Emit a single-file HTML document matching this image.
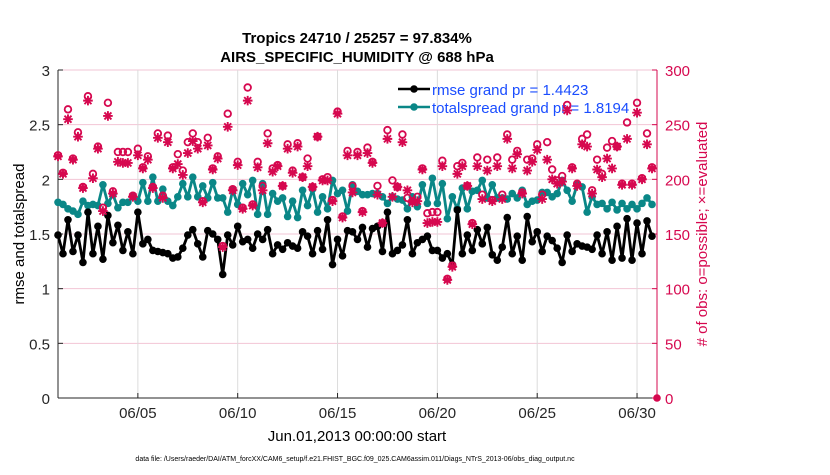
<!DOCTYPE html>
<html><head><meta charset="utf-8"><style>
body{margin:0;background:#fff;}
svg text{font-family:"Liberation Sans",sans-serif;}
</style></head><body>
<svg id="chart" width="830" height="470" xmlns="http://www.w3.org/2000/svg">
<text x="357" y="43" font-size="15" font-weight="bold" text-anchor="middle">Tropics 24710 / 25257 = 97.834%</text>
<text x="357" y="62" font-size="15" font-weight="bold" text-anchor="middle">AIRS_SPECIFIC_HUMIDITY @ 688 hPa</text>
<g id="grid"></g>
<g id="axes"></g>
<g id="legend">
 <line x1="398" y1="89" x2="430" y2="89" stroke="#000" stroke-width="2.5"/>
 <circle cx="414" cy="89" r="3.8" fill="#000"/>
 <text x="432" y="95" font-size="15" fill="#1a4dff">rmse grand pr = 1.4423</text>
 <line x1="398" y1="107" x2="430" y2="107" stroke="#0a8787" stroke-width="2.5"/>
 <circle cx="414" cy="107" r="3.8" fill="#0a8787"/>
 <text x="432" y="113" font-size="15" fill="#1a4dff">totalspread grand pr = 1.8194</text>
</g>
<g id="series"></g>
<text transform="translate(24,234) rotate(-90)" font-size="15" text-anchor="middle">rmse and totalspread</text>
<text transform="translate(707,234) rotate(-90)" font-size="15" text-anchor="middle" fill="#d6084f"># of obs: o=possible; ×=evaluated</text>
<text x="357" y="441" font-size="15" text-anchor="middle">Jun.01,2013 00:00:00 start</text>
<text x="355" y="461" font-size="7" text-anchor="middle">data file: /Users/raeder/DAI/ATM_forcXX/CAM6_setup/f.e21.FHIST_BGC.f09_025.CAM6assim.011/Diags_NTrS_2013-06/obs_diag_output.nc</text>
</svg>
<script>
const rmse=[1.49,1.32,1.63,1.34,1.49,1.24,1.70,1.32,1.57,1.27,1.67,1.42,1.58,1.35,1.52,1.32,1.70,1.41,1.45,1.35,1.34,1.33,1.32,1.28,1.29,1.37,1.49,1.54,1.41,1.29,1.53,1.50,1.45,1.13,1.49,1.40,1.57,1.43,1.45,1.37,
1.50,1.45,1.54,1.32,1.40,1.36,1.42,1.39,1.37,1.52,1.48,1.32,1.53,1.36,1.63,1.22,1.45,1.30,1.53,1.52,1.45,1.56,1.38,1.55,1.57,1.34,1.70,1.32,1.35,1.40,1.63,1.32,1.42,1.45,1.48,1.35,1.35,1.28,
1.32,1.22,1.72,1.32,1.49,1.35,1.54,1.41,1.56,1.31,1.26,1.38,1.65,1.32,1.48,1.26,1.66,1.43,1.52,1.34,1.48,1.44,1.37,1.24,1.49,1.34,1.41,1.39,1.38,1.36,1.49,1.32,1.52,1.26,1.57,1.28,1.64,1.26,1.60,1.32,1.62,1.48];
const spread=[1.79,1.77,1.73,1.71,1.68,1.80,1.76,1.77,1.76,1.95,1.78,1.86,1.74,1.79,1.79,1.84,1.80,1.97,1.80,2.02,1.80,1.91,1.80,1.76,1.84,1.96,1.84,2.02,1.84,1.94,1.83,1.97,1.83,1.83,1.70,1.90,1.77,1.96,1.86,1.99,
1.68,1.96,1.68,1.87,1.80,1.83,1.66,1.80,1.65,1.90,1.76,1.91,1.70,1.84,1.73,1.99,1.87,1.90,1.71,1.95,1.89,1.86,1.86,1.87,1.87,1.84,1.78,1.84,1.82,1.81,1.73,1.84,1.75,1.95,1.78,2.01,1.78,1.96,
1.64,1.84,1.73,1.92,1.73,1.89,1.90,1.99,1.83,1.95,1.83,1.83,1.82,1.87,1.83,1.90,1.77,1.80,1.81,1.88,1.88,1.84,1.87,1.99,1.90,1.80,1.95,1.93,1.70,1.84,1.77,1.78,1.73,1.79,1.72,1.78,1.73,1.77,1.73,1.78,1.83,1.77];
const evaluated=[221,205,255,218,239,192,272,201,228,171,258,187,216,215,215,184,222,210,218,192,238,183,234,210,214,204,224,235,228,179,231,209,219,138,248,190,213,173,272,176,
211,190,233,207,212,194,228,206,230,202,212,193,239,199,199,180,260,165,222,188,222,170,224,215,186,160,237,184,193,234,190,179,180,209,160,161,161,212,
108,120,205,212,194,159,212,182,208,180,212,182,237,210,223,187,208,216,227,182,218,200,196,198,263,210,194,232,230,187,209,202,219,210,230,195,237,195,261,200,232,210];
const possible=[222,206,264,219,243,193,276,205,230,174,270,189,225,225,225,185,228,211,221,193,242,185,240,211,223,208,234,242,234,180,238,210,221,139,260,191,216,174,284,177,
216,194,242,210,213,194,232,208,233,202,219,193,239,200,202,181,262,166,226,194,225,171,229,216,194,160,245,199,193,241,183,180,184,210,169,170,170,217,
109,121,212,215,194,160,220,186,218,181,220,186,241,218,226,188,218,219,232,186,234,209,199,203,268,211,196,237,241,190,218,205,229,235,230,196,252,196,270,201,242,211];
const xTicks=[4,9,14,19,24,29];
const xTickLabels=["06/05","06/10","06/15","06/20","06/25","06/30"];
const yTicks=[0,0.5,1,1.5,2,2.5,3];
const yTickLabels=["0","0.5","1","1.5","2","2.5","3"];
const y2Ticks=[0,50,100,150,200,250,300];

const L=58,R=657,T=70,B=398;
const X=t=>L+(R-L)*t/30;
const Y=v=>B-(B-T)*v/3;
const Y2=v=>B-(B-T)*v/300;
const NS='http://www.w3.org/2000/svg';
function mk(tag,attrs,parent,txt){const e=document.createElementNS(NS,tag);for(const k in attrs)e.setAttribute(k,attrs[k]);if(txt!==undefined)e.textContent=txt;parent.appendChild(e);return e;}
const grid=document.getElementById('grid'),axes=document.getElementById('axes'),ser=document.getElementById('series');

y2Ticks.forEach(v=>{const e=mk('line',{x1:L,x2:R,y1:Y2(v),y2:Y2(v),stroke:'#f2c4d4','stroke-width':1},grid);

});
xTicks.forEach(t=>{const e=mk('line',{x1:X(t),x2:X(t),y1:T,y2:B,stroke:'#dcdcdc','stroke-width':1},grid);

});

mk('line',{x1:L,x2:L,y1:T,y2:B,stroke:'#262626','stroke-width':1},axes);
mk('line',{x1:L,x2:R,y1:B,y2:B,stroke:'#262626','stroke-width':1},axes);
mk('line',{x1:R,x2:R,y1:T,y2:B,stroke:'#d6084f','stroke-width':1},axes);
xTicks.forEach((t,i)=>{mk('line',{x1:X(t),x2:X(t),y1:B,y2:B-5,stroke:'#262626'},axes);
const e=mk('text',{x:X(t),y:B+20,'font-size':15,'text-anchor':'middle',fill:'#262626'},axes,xTickLabels[i]);

});
yTicks.forEach((v,i)=>{mk('line',{x1:L,x2:L+5,y1:Y(v),y2:Y(v),stroke:'#262626'},axes);
const e=mk('text',{x:L-8,y:Y(v)+6,'font-size':15,'text-anchor':'end',fill:'#262626'},axes,yTickLabels[i]);

});
y2Ticks.forEach(v=>{mk('line',{x1:R,x2:R-5,y1:Y2(v),y2:Y2(v),stroke:'#d6084f'},axes);
const e=mk('text',{x:R+8,y:Y2(v)+6,'font-size':15,'text-anchor':'start',fill:'#d6084f'},axes,String(v));

});

function line(vals,color,name){
 const pts=vals.map((v,i)=>X(i*0.25).toFixed(1)+','+Y(v).toFixed(1)).join(' ');
 const p=mk('polyline',{points:pts,fill:'none',stroke:color,'stroke-width':2.8,'stroke-linejoin':'round'},ser);
 
 
 vals.forEach((v,i)=>{const c=mk('circle',{cx:X(i*0.25),cy:Y(v),r:3.8,fill:color},ser);
 
 });
}
line(spread,'#0a8787','totalspread');
line(rmse,'#000000','rmse');

const mc='#d6084f';
possible.forEach((v,i)=>{const c=mk('circle',{cx:X(i*0.25),cy:Y2(v),r:3.3,fill:'none',stroke:mc,'stroke-width':1.8},ser);

});
evaluated.forEach((v,i)=>{const x=X(i*0.25),y=Y2(v),s=4.8,d=3.5;
const g=mk('path',{d:`M${x-s},${y}H${x+s}M${x},${y-s}V${y+s}M${x-d},${y-d}L${x+d},${y+d}M${x-d},${y+d}L${x+d},${y-d}`,stroke:mc,'stroke-width':1.9,fill:'none'},ser);

});
const z=mk('circle',{cx:X(30),cy:Y2(0),r:3.8,fill:mc},ser);


</script>
</body></html>
